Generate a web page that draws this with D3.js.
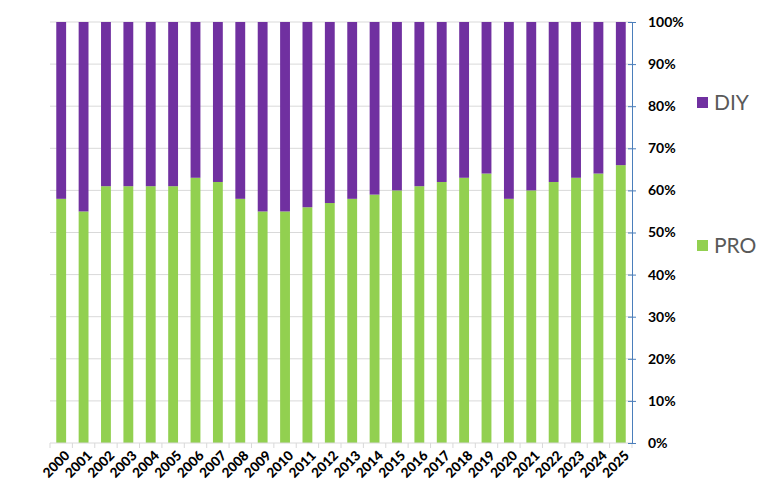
<!DOCTYPE html>
<html>
<head>
<meta charset="utf-8">
<script src="https://cdn.jsdelivr.net/npm/d3@7"></script>
<style>
  body { margin: 0; background: #fff; }
  svg text { font-family: Lato, "Open Sans", sans-serif; }
</style>
</head>
<body>
<div id="chart"></div>
<script>
// Data
const years = ['2000','2001','2002','2003','2004','2005','2006','2007','2008','2009','2010','2011','2012',
               '2013','2014','2015','2016','2017','2018','2019','2020','2021','2022','2023','2024','2025'];
const pro = [58,55,61,61,61,61,63,62,58,55,55,56,57,58,59,60,61,62,63,64,58,60,62,63,64,66];
const diy = pro.map(v => 100 - v);
const series = ['PRO','DIY'];
const yTicks = [0,10,20,30,40,50,60,70,80,90,100];

const colors = { PRO: '#92d050', DIY: '#7030a0' };

const W = 780, H = 504;
const m = { t: 22, r: 148, b: 61, l: 50 }; // plot 50..632, 22..443

const svg = d3.select('#chart').append('svg')
  .attr('width', W).attr('height', H);

const x = d3.scaleBand().domain(years).range([m.l, W - m.r]).paddingInner(0.56).paddingOuter(0.28);
const y = d3.scaleLinear().domain([0, 100]).range([H - m.b, m.t]);

// Gridlines
svg.append('g')
  .selectAll('line')
  .data(yTicks.slice(1))
  .enter().append('line')
  .attr('x1', m.l).attr('x2', W - m.r)
  .attr('y1', d => y(d)).attr('y2', d => y(d))
  .attr('stroke', '#d9d9d9').attr('stroke-width', 1);

// Stacked bars
const rows = years.map((yr, i) => ({ year: yr, PRO: pro[i], DIY: diy[i] }));
const stack = d3.stack().keys(series)(rows);

svg.append('g')
  .selectAll('g')
  .data(stack)
  .enter().append('g')
  .attr('fill', d => colors[d.key])
  .selectAll('rect')
  .data(d => d)
  .enter().append('rect')
  .attr('x', d => x(d.data.year))
  .attr('width', x.bandwidth())
  .attr('y', d => y(d[1]))
  .attr('height', d => y(d[0]) - y(d[1]));

// Bottom axis: category separators
const bx = svg.append('g');
bx.append('line')
  .attr('x1', m.l).attr('x2', W - m.r)
  .attr('y1', y(0)).attr('y2', y(0))
  .attr('stroke', '#d9d9d9');
bx.selectAll('line.tk')
  .data(d3.range(years.length + 1))
  .enter().append('line')
  .attr('class', 'tk')
  .attr('x1', i => m.l + i * (W - m.r - m.l) / years.length)
  .attr('x2', i => m.l + i * (W - m.r - m.l) / years.length)
  .attr('y1', y(0)).attr('y2', y(0) + 5)
  .attr('stroke', '#d9d9d9');

bx.selectAll('text')
  .data(years)
  .enter().append('text')
  .attr('transform', d => `translate(${x(d) + x.bandwidth() / 2 + 6},${y(0) + 10}) rotate(-45)`)
  .attr('text-anchor', 'end')
  .attr('dy', '0.35em')
  .attr('font-size', 13.5)
  .attr('font-weight', 900)
  .attr('fill', '#000')
  .text(d => d);

// Right axis
const ax = d3.axisRight(y).tickValues(yTicks).tickFormat(d => d + '%').tickSize(4).tickSizeOuter(0);
const gy = svg.append('g')
  .attr('transform', `translate(${W - m.r},0)`)
  .call(ax);
gy.select('.domain').attr('stroke', '#4a7ebb');
gy.selectAll('.tick line').attr('x1', -4).attr('x2', 4).attr('stroke', '#4a7ebb');
gy.selectAll('.tick text')
  .attr('x', 16)
  .attr('font-size', 14)
  .attr('font-weight', 'bold')
  .attr('fill', '#000')
  .attr('font-family', 'Lato, sans-serif');

// Legend
const legend = [
  { key: 'DIY', y: 103 },
  { key: 'PRO', y: 246 }
];
const lg = svg.append('g').selectAll('g')
  .data(legend)
  .enter().append('g')
  .attr('transform', d => `translate(697,${d.y})`);
lg.append('rect')
  .attr('x', 0).attr('y', -6)
  .attr('width', 11).attr('height', 11)
  .attr('fill', d => colors[d.key]);
lg.append('text')
  .attr('x', 17).attr('y', 0)
  .attr('dy', '0.35em')
  .attr('font-size', 21)
  .attr('fill', '#595959')
  .text(d => d.key);
</script>
</body>
</html>
